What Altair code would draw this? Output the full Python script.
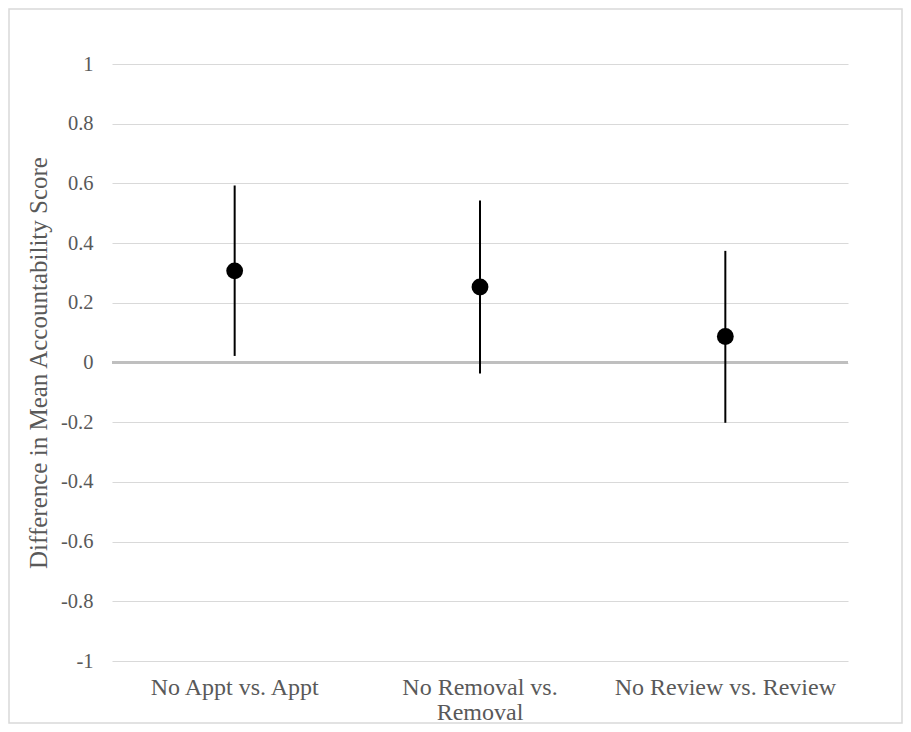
import altair as alt
import pandas as pd

categories = ["No Appt vs. Appt", "No Removal vs. Removal", "No Review vs. Review"]
means = [0.307, 0.253, 0.087]
lower = [0.022, -0.037, -0.202]
upper = [0.593, 0.543, 0.374]
y_ticks = [-1, -0.8, -0.6, -0.4, -0.2, 0, 0.2, 0.4, 0.6, 0.8, 1]

df = pd.DataFrame({"cat": categories, "mean": means, "lo": lower, "hi": upper})

FONT = "Liberation Serif"
TXT = "#595959"

x_enc = alt.X(
    "cat:N",
    sort=categories,
    scale=alt.Scale(paddingInner=0, paddingOuter=0),
    axis=alt.Axis(
        title=None,
        labelAngle=0,
        domain=False,
        ticks=False,
        grid=False,
        labelFont=FONT,
        labelFontSize=24,
        labelColor=TXT,
        labelPadding=14,
        labelLineHeight=25,
        labelLimit=0,
        labelExpr="datum.value == 'No Removal vs. Removal' ? ['No Removal vs.', 'Removal'] : datum.value",
    ),
)

y_scale = alt.Scale(domain=[-1, 1], nice=False, zero=False)

base = alt.Chart(df)

errs = base.mark_rule(color="black", strokeWidth=2).encode(
    x=x_enc,
    y=alt.Y(
        "lo:Q",
        scale=y_scale,
        axis=alt.Axis(
            values=y_ticks,
            title="Difference in Mean Accountability Score",
            titleFont=FONT,
            titleFontSize=25,
            titleFontWeight="normal",
            titleColor=TXT,
            titlePadding=9,
            labelFont=FONT,
            labelFontSize=20.5,
            labelColor=TXT,
            labelPadding=19,
            labelExpr="'' + round(datum.value*10)/10",
            domain=False,
            ticks=False,
            grid=True,
            gridColor="#d9d9d9",
            gridWidth=1,
        ),
    ),
    y2="hi:Q",
)

zero_line = alt.Chart(pd.DataFrame({"z": [0]})).mark_rule(
    color="#bfbfbf", strokeWidth=3
).encode(y=alt.Y("z:Q", scale=y_scale))

points = base.mark_circle(size=283, color="black", opacity=1).encode(
    x=alt.X("cat:N", sort=categories),
    y=alt.Y("mean:Q", scale=y_scale),
)

border = alt.Chart(pd.DataFrame({"b": [0]})).mark_rect(
    filled=False, stroke="#d9d9d9", strokeWidth=1.5
).encode(
    x=alt.value(-103),
    x2=alt.value(790),
    y=alt.value(-55),
    y2=alt.value(659),
)

chart = (
    alt.layer(zero_line, errs, points, border)
    .properties(
        width=736,
        height=597,
        background="white",
        autosize=alt.AutoSizeParams(type="none"),
        padding={"left": 104, "top": 56, "right": 55, "bottom": 63},
    )
    .configure_view(strokeWidth=0)
)

chart.save("out.html", embed_options={"renderer": "svg", "actions": False})
